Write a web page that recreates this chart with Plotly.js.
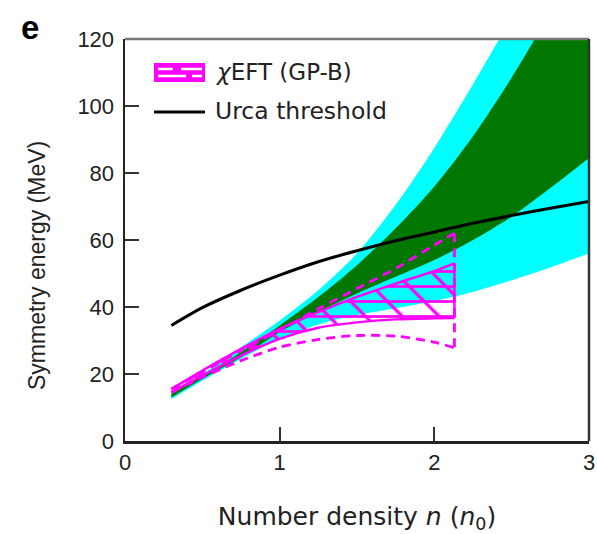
<!DOCTYPE html>
<html>
<head>
<meta charset="utf-8">
<script src="https://cdn.plot.ly/plotly-3.0.1.min.js"></script>
<style>html,body{margin:0;padding:0;background:#fff;}#chart{width:597px;height:534px;}</style>
</head>
<body>
<div id="chart"></div>
<script>
// ---- data ----
const bandX       = [0.3, 0.5, 0.75, 1.0, 1.25, 1.5, 1.75, 2.0, 2.25, 2.5, 2.75, 3.0];
const cyanUpper   = [14.5, 20, 28, 36, 45, 56, 70.5, 87.5, 106.5, 126.5, 147, 168];
const cyanLower   = [12.5, 18, 24.5, 30.5, 34.8, 37.6, 39.6, 41.8, 44.5, 48, 51.8, 56];
const greenUpper  = [14, 19.5, 26.5, 34.5, 43, 52.5, 63.5, 76, 91, 108.5, 128, 149];
const greenLower  = [13, 18.5, 25, 32.5, 38.5, 44, 49, 54, 60, 67, 75.5, 84.5];

const urcaX = [0.3, 0.5, 0.75, 1.0, 1.25, 1.5, 1.75, 2.0, 2.25, 2.5, 2.75, 3.0];
const urcaY = [34.5, 39.8, 45, 49.5, 53.5, 56.8, 59.8, 62.4, 65, 67.3, 69.5, 71.5];

const eftX          = [0.3, 0.5, 0.75, 1.0, 1.25, 1.5, 1.75, 2.0, 2.13];
const eftUpper      = [15.5, 21, 27.5, 33.5, 38.5, 43, 47, 50.7, 53];
const eftLower      = [14.5, 19.5, 25.5, 30.5, 33.8, 35.4, 36.3, 36.6, 36.7];
const eftOuterUpper = [15.5, 20.5, 27, 33, 39.5, 45.5, 51.5, 58.5, 62];
const eftOuterLower = [14.5, 19, 24, 28, 30.3, 31.5, 31.3, 29.5, 27.8];

const xTicks = [0, 1, 2, 3];
const yTicks = [0, 20, 40, 60, 80, 100, 120];

const legendNames = ['<i>χ</i>EFT (GP-B)', 'Urca threshold'];

// ---- styling ----
const MAG = '#ff00ff';
const FONT = 'Liberation Sans, Arial, sans-serif';
const LFONT = 'DejaVu Sans, sans-serif';
const last = a => a[a.length - 1];
const base = {mode:'lines', showlegend:false, hoverinfo:'skip'};
const sp = (w, c) => ({width:w, color:c, shape:'spline', smoothing:0.8});

const traces = [];
// cyan band
traces.push(Object.assign({}, base, {x:bandX, y:cyanLower, line:sp(0, '#00ffff')}));
traces.push(Object.assign({}, base, {x:bandX, y:cyanUpper, fill:'tonexty', fillcolor:'#00ffff', line:sp(0, '#00ffff')}));
// green band
traces.push(Object.assign({}, base, {x:bandX, y:greenLower, line:sp(0, '#007800')}));
traces.push(Object.assign({}, base, {x:bandX, y:greenUpper, fill:'tonexty', fillcolor:'#007800', line:sp(0, '#007800')}));

// hatched chiEFT band: horizontal lines
traces.push(Object.assign({}, base, {x:eftX, y:eftLower, line:sp(0, MAG)}));
traces.push(Object.assign({}, base, {x:eftX, y:eftUpper, fill:'tonexty', fillcolor:'rgba(0,0,0,0)',
  fillpattern:{shape:'-', fgcolor:MAG, fgopacity:1, bgcolor:'rgba(0,0,0,0)', size:15, solidity:0.18, fillmode:'overlay'},
  line:sp(0, MAG)}));
// hatched chiEFT band: diagonal lines
traces.push(Object.assign({}, base, {x:eftX, y:eftLower, line:sp(0, MAG)}));
traces.push(Object.assign({}, base, {x:eftX, y:eftUpper, fill:'tonexty', fillcolor:'rgba(0,0,0,0)',
  fillpattern:{shape:'\\', fgcolor:MAG, fgopacity:1, bgcolor:'rgba(0,0,0,0)', size:26, solidity:0.12, fillmode:'overlay'},
  line:sp(0, MAG)}));
// solid outline of hatched band
traces.push(Object.assign({}, base, {x:eftX, y:eftUpper, line:sp(2.4, MAG)}));
traces.push(Object.assign({}, base, {x:eftX, y:eftLower, line:sp(2.4, MAG)}));
traces.push(Object.assign({}, base, {x:[last(eftX), last(eftX)], y:[last(eftLower), last(eftUpper)], line:{width:2.4, color:MAG}}));

// dashed outer envelope
const dash = {width:2.8, color:MAG, dash:'9px,6px', shape:'spline', smoothing:0.8};
traces.push(Object.assign({}, base, {x:eftX, y:eftOuterUpper, line:dash}));
traces.push(Object.assign({}, base, {x:eftX, y:eftOuterLower, line:dash}));
traces.push(Object.assign({}, base, {x:[last(eftX), last(eftX)], y:[last(eftOuterUpper), last(eftOuterLower)],
  line:{width:2.8, color:MAG, dash:'9px,6px'}}));

// Urca threshold
traces.push(Object.assign({}, base, {x:urcaX, y:urcaY, name:legendNames[1], line:sp(3, '#000')}));

// paper coords helpers (plot area: x 125..589 px, y 39..441 px)
const px = v => (v - 125) / 464;
const py = v => (441 - v) / 402;

const layout = {
  width:597, height:534,
  margin:{l:125, r:8, t:39, b:93},
  paper_bgcolor:'#fff', plot_bgcolor:'#fff',
  font:{family:FONT, size:22, color:'#222'},
  showlegend:false,
  xaxis:{range:[0,3], tickvals:xTicks, ticktext:xTicks.map(String), ticks:'inside', ticklen:14, tickwidth:2, tickcolor:'#333',
    showline:true, linecolor:'#222', linewidth:2.5, showgrid:false, zeroline:false,
    tickfont:{family:FONT, size:22, color:'#222'},
    title:{text:'Number density <i>n</i> (<i>n</i><sub>0</sub>)', standoff:34, font:{family:LFONT, size:25, color:'#222'}}},
  yaxis:{range:[0,120], tickvals:yTicks, ticktext:yTicks.map(String), ticks:'inside', ticklen:14, tickwidth:2, tickcolor:'#333',
    showline:true, linecolor:'#222', linewidth:2.5, showgrid:false, zeroline:false, ticklabelstandoff:4,
    tickfont:{family:FONT, size:22, color:'#222'}},
  shapes:[
    {type:'line', xref:'paper', yref:'paper', x0:0, x1:1, y0:1, y1:1, line:{color:'#777', width:2.5}},
    {type:'line', xref:'paper', yref:'paper', x0:1, x1:1, y0:0, y1:1, line:{color:'#333', width:2.5}},
    // legend patch for chiEFT
    {type:'rect', xref:'paper', yref:'paper', x0:px(154), x1:px(205), y0:py(82), y1:py(63), fillcolor:MAG, line:{width:0}},
    {type:'line', xref:'paper', yref:'paper', x0:px(158), x1:px(173), y0:py(69), y1:py(69), line:{color:'#fff', width:2.5}},
    {type:'line', xref:'paper', yref:'paper', x0:px(181), x1:px(202), y0:py(69), y1:py(69), line:{color:'#fff', width:2.5}},
    {type:'line', xref:'paper', yref:'paper', x0:px(158), x1:px(186), y0:py(76), y1:py(76), line:{color:'#fff', width:2.5}},
    {type:'line', xref:'paper', yref:'paper', x0:px(192), x1:px(202), y0:py(76), y1:py(76), line:{color:'#fff', width:2.5}},
    // legend line for Urca threshold
    {type:'line', xref:'paper', yref:'paper', x0:px(154), x1:px(205), y0:py(112), y1:py(112), line:{color:'#000', width:3.2}}
  ],
  annotations:[
    {text:'<b>e</b>', xref:'paper', yref:'paper', x:px(19), y:py(28), xanchor:'left', yanchor:'middle', showarrow:false,
     font:{family:FONT, size:33, color:'#000'}},
    {text:'Symmetry energy (MeV)', textangle:-90, xref:'paper', yref:'paper', x:px(37), y:py(266), xanchor:'center', yanchor:'middle',
     showarrow:false, font:{family:FONT, size:23, color:'#222'}},
    {text:legendNames[0], xref:'paper', yref:'paper', x:px(213), y:py(72), xanchor:'left', yanchor:'middle', showarrow:false,
     font:{family:LFONT, size:23, color:'#222'}},
    {text:legendNames[1], xref:'paper', yref:'paper', x:px(213), y:py(111), xanchor:'left', yanchor:'middle', showarrow:false,
     font:{family:LFONT, size:23.5, color:'#222'}}
  ]
};

Plotly.newPlot('chart', traces, layout, {displayModeBar:false, staticPlot:true});
</script>
</body>
</html>
